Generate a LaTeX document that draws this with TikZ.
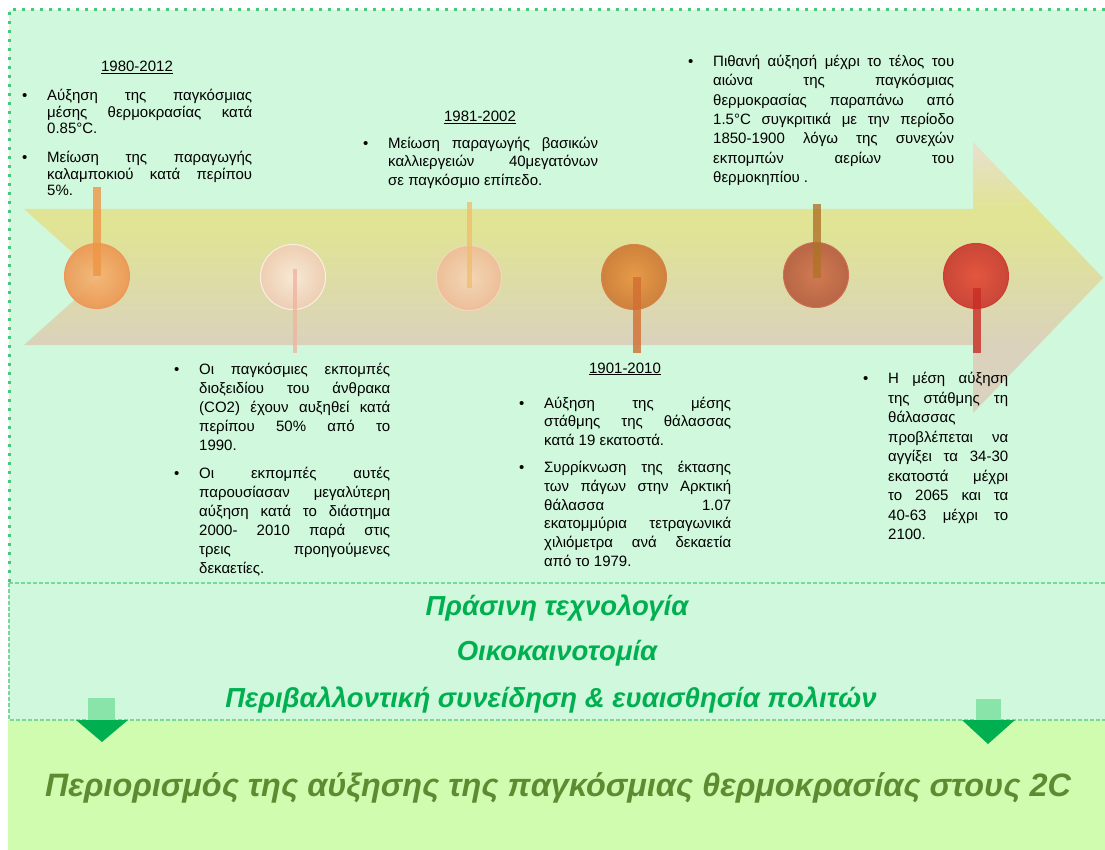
\documentclass[tikz,border=0pt]{standalone}
\usepackage{fontspec}
\setmainfont{Liberation Sans}
\usetikzlibrary{positioning}
\definecolor{panelgreen}{RGB}{208,248,220}
\definecolor{dotgreen}{RGB}{70,200,125}
\definecolor{dashgreen}{RGB}{120,215,155}
\definecolor{limegreen}{RGB}{208,252,175}
\definecolor{textgreen}{RGB}{0,176,80}
\definecolor{shaftgreen}{RGB}{136,228,168}
\definecolor{goalgreen}{RGB}{92,140,50}
\definecolor{bandtop}{RGB}{232,224,208}
\definecolor{bandyel}{RGB}{224,228,148}
\definecolor{bandbot}{RGB}{218,210,188}
% pins
\definecolor{pinAin}{RGB}{246,180,115}\definecolor{pinAout}{RGB}{236,150,80}\definecolor{pinArim}{RGB}{240,150,90}
\definecolor{pinBin}{RGB}{250,234,218}\definecolor{pinBout}{RGB}{240,205,180}\definecolor{pinBrim}{RGB}{250,240,230}
\definecolor{pinCin}{RGB}{246,214,184}\definecolor{pinCout}{RGB}{238,188,150}\definecolor{pinCrim}{RGB}{245,215,190}
\definecolor{pinDin}{RGB}{232,148,62}\definecolor{pinDout}{RGB}{205,120,50}\definecolor{pinDrim}{RGB}{215,130,70}
\definecolor{pinEin}{RGB}{208,112,72}\definecolor{pinEout}{RGB}{180,90,60}\definecolor{pinErim}{RGB}{210,110,80}
\definecolor{pinFin}{RGB}{228,72,52}\definecolor{pinFout}{RGB}{200,55,45}\definecolor{pinFrim}{RGB}{210,60,50}
\definecolor{stemA}{RGB}{238,150,70}
\definecolor{stemB}{RGB}{240,180,160}
\definecolor{stemC}{RGB}{240,190,110}
\definecolor{stemD}{RGB}{210,110,50}
\definecolor{stemE}{RGB}{175,115,40}
\definecolor{stemF}{RGB}{200,45,35}
\pgfdeclareverticalshading{timeband}{100bp}{color(0bp)=(bandbot); color(25bp)=(bandbot); color(37.5bp)=(bandbot); color(59bp)=(bandyel); color(62.6bp)=(bandyel); color(75bp)=(bandtop); color(100bp)=(bandtop)}
\newlength\colw
\newlength\hangw
\setlength\hangw{25pt}
\newcommand\bfirst[1]{\makebox[\hangw][l]{\textbullet}\makebox[\colw][s]{#1}\\}
\newcommand\bline[1]{\hspace*{\hangw}\makebox[\colw][s]{#1}\\}
\newcommand\blast[1]{\hspace*{\hangw}#1}
\tikzset{
  pin/.style={circle, minimum size=65pt, inner sep=0pt, line width=1pt, fill opacity=0.9},
  stem/.style={line cap=butt, draw opacity=0.8},
  textcol/.code={\setlength\colw{#1}},
  txt/.style={align=left, inner sep=0pt, anchor=base west, font=\fontsize{15}{19}\selectfont},
  yeartxt/.style={inner sep=0pt, anchor=base, font=\fontsize{15}{19}\selectfont},
  greentxt/.style={inner sep=0pt, text=textgreen, font=\fontsize{27.5}{32}\selectfont\bfseries\itshape},
  goaltxt/.style={inner sep=0pt, text=goalgreen, font=\fontsize{32.4}{38}\selectfont\bfseries\itshape},
  dotborder/.style={draw=dotgreen, line width=3pt, dash pattern=on 3pt off 6pt},
  dashborder/.style={draw=dashgreen, line width=1.2pt, dash pattern=on 4pt off 2pt}
}
\begin{document}
\begin{tikzpicture}[x=1pt, y=-1pt]
  \useasboundingbox (0,0) rectangle (1105,850);
  % Panels
  \fill[panelgreen] (9,10) rectangle (1105,720);
  \fill[limegreen] (8,720) rectangle (1105,850);
  \draw[dotborder] (1105,10) -- (9,10) -- (9,583);
  \draw[dashborder] (9,583) -- (1105,583);
  \draw[dashborder] (9,583) -- (9,720) -- (1105,720);

  % Time band
  \path[shading=timeband] (24,209) -- (973,209) -- (973,142) -- (1103,278) -- (973,413)
    -- (973,345) -- (24,345) -- (100,277) -- cycle;

  % Pins
  \node[pin, inner color=pinAin, outer color=pinAout, draw=pinArim] (p1) at (97,276) {};
  \node[pin, inner color=pinBin, outer color=pinBout, draw=pinBrim] (p2) at (293,277) {};
  \node[pin, inner color=pinCin, outer color=pinCout, draw=pinCrim] (p3) at (469,278) {};
  \node[pin, inner color=pinDin, outer color=pinDout, draw=pinDrim] (p4) at (634,277) {};
  \node[pin, inner color=pinEin, outer color=pinEout, draw=pinErim] (p5) at (816,275) {};
  \node[pin, inner color=pinFin, outer color=pinFout, draw=pinFrim] (p6) at (976,276) {};

  \coordinate (s1) at (97,187);
  \coordinate (s2) at (295,353);
  \coordinate (s3) at (469,202);
  \coordinate (s4) at (637,353);
  \coordinate (s5) at (817,204);
  \coordinate (s6) at (977,353);
  \draw[stem, draw=stemA, line width=8pt] (p1.center) -- (s1);
  \draw[stem, draw=stemB, line width=4pt, shorten <=-8pt] (p2.center -| s2) -- (s2);
  \draw[stem, draw=stemC, line width=5pt, shorten <=-10pt] (p3.center) -- (s3);
  \draw[stem, draw=stemD, line width=8pt] (p4.center -| s4) -- (s4);
  \draw[stem, draw=stemE, line width=8pt, shorten <=-3pt] (p5.center -| s5) -- (s5);
  \draw[stem, draw=stemF, line width=8pt, shorten <=12pt] (p6.center -| s6) -- (s6);

  % Texts above the band (placed by the baseline of their last line)
  \node[yeartxt] (yrA) at (137,72) {\underline{1980-2012}};
  \node[txt, textcol=205pt, font=\fontsize{15}{16.3}\selectfont] (noteA) at (22,195.5) {%
    \bfirst{Αύξηση της παγκόσμιας}
    \bline{μέσης θερμοκρασίας κατά}
    \blast{0.85°C.}\\[13pt]
    \bfirst{Μείωση της παραγωγής}
    \bline{καλαμποκιού κατά περίπου}
    \blast{5\%.}};

  \node[yeartxt] (yrB) at (480,122) {\underline{1981-2002}};
  \node[txt, textcol=210pt, font=\fontsize{15}{18.5}\selectfont] (noteB) at (363,185.5) {%
    \bfirst{Μείωση παραγωγής βασικών}
    \bline{καλλιεργειών 40μεγατόνων}
    \blast{σε παγκόσμιο επίπεδο.}};

  \node[txt, textcol=241pt, font=\fontsize{15}{19.3}\selectfont] (noteC) at (688,182.5) {%
    \bfirst{Πιθανή αύξησή μέχρι το τέλος του}
    \bline{αιώνα της παγκόσμιας}
    \bline{θερμοκρασίας παραπάνω από}
    \bline{1.5°C συγκριτικά με την περίοδο}
    \bline{1850-1900 λόγω της συνεχών}
    \bline{εκπομπών αερίων του}
    \blast{θερμοκηπίου .}};

  % Texts below the band
  \node[txt, textcol=191pt] (noteD) at (174,573.5) {%
    \bfirst{Οι παγκόσμιες εκπομπές}
    \bline{διοξειδίου του άνθρακα}
    \bline{(CO2) έχουν αυξηθεί κατά}
    \bline{περίπου 50\% από το}
    \blast{1990.}\\[9pt]
    \bfirst{Οι εκπομπές αυτές}
    \bline{παρουσίασαν μεγαλύτερη}
    \bline{αύξηση κατά το διάστημα}
    \bline{2000- 2010 παρά στις}
    \bline{τρεις προηγούμενες}
    \blast{δεκαετίες.}};

  \node[yeartxt] (yrE) at (625,373) {\underline{1901-2010}};
  \node[txt, textcol=187pt, font=\fontsize{15}{18.8}\selectfont] (noteE) at (519,566.5) {%
    \bfirst{Αύξηση της μέσης}
    \bline{στάθμης της θάλασσας}
    \blast{κατά 19 εκατοστά.}\\[8pt]
    \bfirst{Συρρίκνωση της έκτασης}
    \bline{των πάγων στην Αρκτική}
    \bline{θάλασσα 1.07}
    \bline{εκατομμύρια τετραγωνικά}
    \bline{χιλιόμετρα ανά δεκαετία}
    \blast{από το 1979.}};

  \node[txt, textcol=120pt, font=\fontsize{15}{19.5}\selectfont] (noteF) at (863,539.5) {%
    \bfirst{Η μέση αύξηση}
    \bline{της στάθμης τη}
    \blast{θάλασσας}\\
    \bline{προβλέπεται να}
    \bline{αγγίξει τα 34-30}
    \bline{εκατοστά μέχρι}
    \bline{το 2065 και τα}
    \bline{40-63 μέχρι το}
    \blast{2100.}};

  % Actions
  \node[greentxt] (tech) at (557,608) {Πράσινη τεχνολογία};
  \node[greentxt] (eco) at (557,653) {Οικοκαινοτομία};
  \node[greentxt] (aware) at (551,700) {Περιβαλλοντική συνείδηση \& ευαισθησία πολιτών};

  % Down arrows
  \fill[shaftgreen] (88,698) rectangle (115,720);
  \fill[textgreen] (76,720) -- (128,720) -- (102,742) -- cycle;
  \fill[shaftgreen] (976,699) rectangle (1001,720);
  \fill[textgreen] (962,720) -- (1015,720) -- (988,744) -- cycle;

  \node[goaltxt] (goal) at (558,788) {Περιορισμός της αύξησης της παγκόσμιας θερμοκρασίας στους 2C};
\end{tikzpicture}
\end{document}
